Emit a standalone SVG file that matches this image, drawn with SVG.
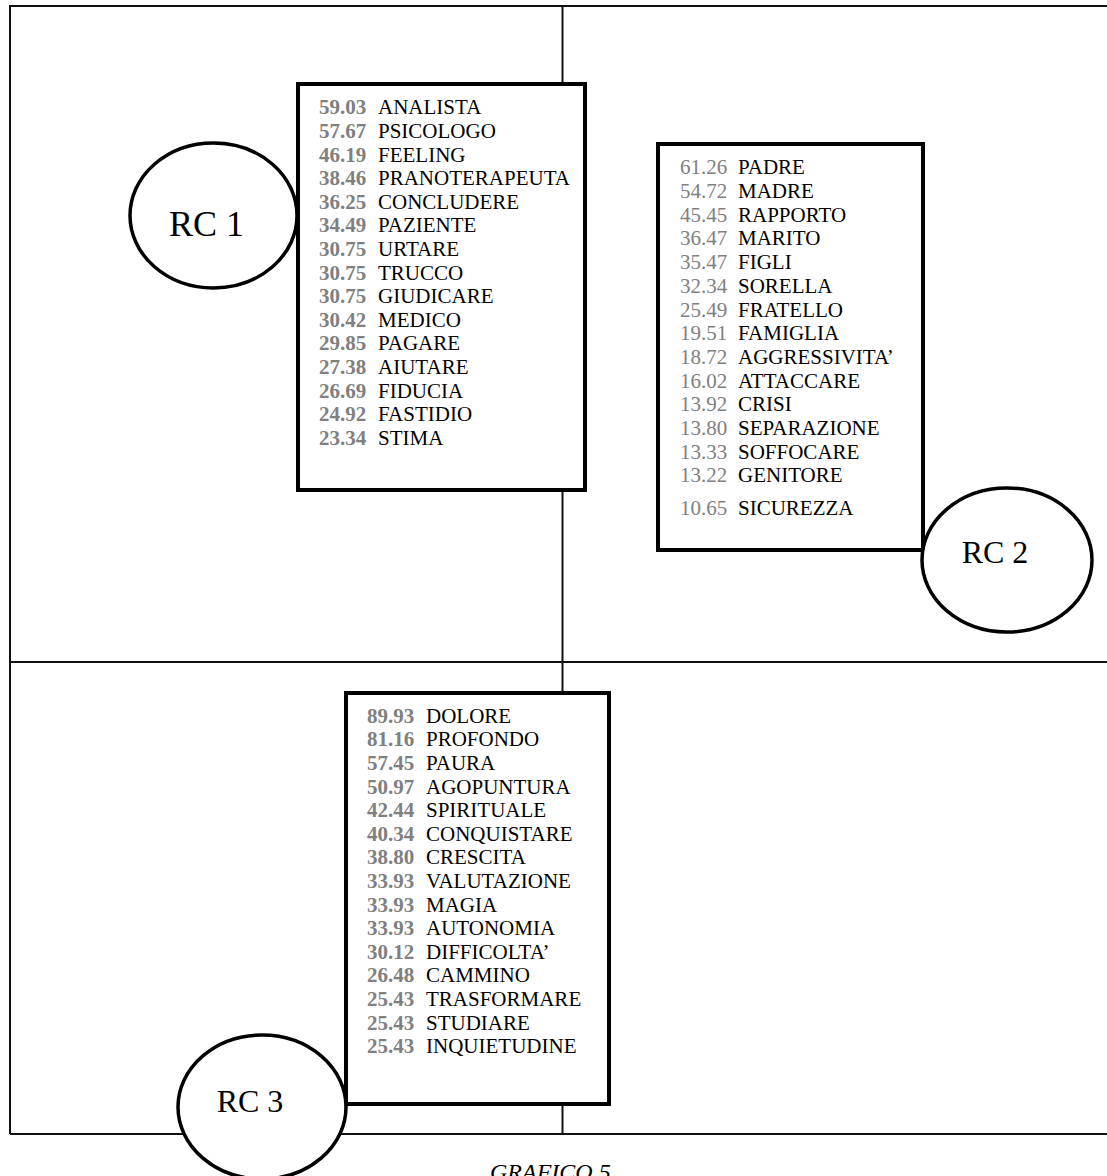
<svg xmlns="http://www.w3.org/2000/svg" width="1107" height="1176" viewBox="0 0 1107 1176">
<style>
text{font-family:"Liberation Serif","Times New Roman",serif;font-size:21px;fill:#000}
.n text{fill:#808080}
.b text{font-weight:bold}
.box{fill:#fff;stroke:#000;stroke-width:4}
.oval{fill:#fff;stroke:#000;stroke-width:3.5}
.ln{stroke:#111;stroke-width:2;fill:none}
.rc{font-size:32px}
</style>
<rect width="1107" height="1176" fill="#fff"/>
<g id="connectors">
<line class="ln" x1="10" y1="6" x2="1107" y2="6"/>
<line class="ln" x1="10" y1="5" x2="10" y2="1134"/>
<line class="ln" x1="10" y1="662" x2="1107" y2="662"/>
<line class="ln" x1="10" y1="1134" x2="1107" y2="1134"/>
<line class="ln" x1="562.5" y1="6" x2="562.5" y2="1134"/>
</g>
<g id="box1">
<rect class="box" x="298" y="84" width="287" height="406"/>
<g class="n b">
<text x="319" y="114.3">59.03</text><text x="319" y="137.9">57.67</text><text x="319" y="161.5">46.19</text><text x="319" y="185.1">38.46</text><text x="319" y="208.7">36.25</text><text x="319" y="232.3">34.49</text><text x="319" y="255.9">30.75</text><text x="319" y="279.5">30.75</text><text x="319" y="303.1">30.75</text><text x="319" y="326.7">30.42</text><text x="319" y="350.3">29.85</text><text x="319" y="373.9">27.38</text><text x="319" y="397.5">26.69</text><text x="319" y="421.1">24.92</text><text x="319" y="444.7">23.34</text>
</g>
<g>
<text x="378" y="114.3">ANALISTA</text><text x="378" y="137.9">PSICOLOGO</text><text x="378" y="161.5">FEELING</text><text x="378" y="185.1">PRANOTERAPEUTA</text><text x="378" y="208.7">CONCLUDERE</text><text x="378" y="232.3">PAZIENTE</text><text x="378" y="255.9">URTARE</text><text x="378" y="279.5">TRUCCO</text><text x="378" y="303.1">GIUDICARE</text><text x="378" y="326.7">MEDICO</text><text x="378" y="350.3">PAGARE</text><text x="378" y="373.9">AIUTARE</text><text x="378" y="397.5">FIDUCIA</text><text x="378" y="421.1">FASTIDIO</text><text x="378" y="444.7">STIMA</text>
</g>
</g>
<g id="rc1">
<ellipse class="oval" cx="213.5" cy="215.5" rx="83.5" ry="72.5"/>
<text x="206.5" y="236" text-anchor="middle" style="font-size:36px">RC 1</text>
</g>
<g id="box2">
<rect class="box" x="658" y="144" width="265" height="406"/>
<g class="n">
<text x="680" y="174.3">61.26</text><text x="680" y="198">54.72</text><text x="680" y="221.7">45.45</text><text x="680" y="245.4">36.47</text><text x="680" y="269.1">35.47</text><text x="680" y="292.8">32.34</text><text x="680" y="316.5">25.49</text><text x="680" y="340.2">19.51</text><text x="680" y="363.9">18.72</text><text x="680" y="387.6">16.02</text><text x="680" y="411.3">13.92</text><text x="680" y="435">13.80</text><text x="680" y="458.7">13.33</text><text x="680" y="482.4">13.22</text><text x="680" y="515">10.65</text>
</g>
<g>
<text x="738" y="174.3">PADRE</text><text x="738" y="198">MADRE</text><text x="738" y="221.7">RAPPORTO</text><text x="738" y="245.4">MARITO</text><text x="738" y="269.1">FIGLI</text><text x="738" y="292.8">SORELLA</text><text x="738" y="316.5">FRATELLO</text><text x="738" y="340.2">FAMIGLIA</text><text x="738" y="363.9">AGGRESSIVITA’</text><text x="738" y="387.6">ATTACCARE</text><text x="738" y="411.3">CRISI</text><text x="738" y="435">SEPARAZIONE</text><text x="738" y="458.7">SOFFOCARE</text><text x="738" y="482.4">GENITORE</text><text x="738" y="515">SICUREZZA</text>
</g>
</g>
<g id="rc2">
<ellipse class="oval" cx="1007" cy="560" rx="85" ry="72"/>
<text class="rc" x="995" y="563" text-anchor="middle">RC 2</text>
</g>
<g id="box3">
<rect class="box" x="346" y="693" width="263" height="411"/>
<g class="n b">
<text x="367" y="722.7">89.93</text><text x="367" y="746.3">81.16</text><text x="367" y="769.9">57.45</text><text x="367" y="793.5">50.97</text><text x="367" y="817.1">42.44</text><text x="367" y="840.7">40.34</text><text x="367" y="864.3">38.80</text><text x="367" y="887.9">33.93</text><text x="367" y="911.5">33.93</text><text x="367" y="935.1">33.93</text><text x="367" y="958.7">30.12</text><text x="367" y="982.3">26.48</text><text x="367" y="1005.9">25.43</text><text x="367" y="1029.5">25.43</text><text x="367" y="1053.1">25.43</text>
</g>
<g>
<text x="426" y="722.7">DOLORE</text><text x="426" y="746.3">PROFONDO</text><text x="426" y="769.9">PAURA</text><text x="426" y="793.5">AGOPUNTURA</text><text x="426" y="817.1">SPIRITUALE</text><text x="426" y="840.7">CONQUISTARE</text><text x="426" y="864.3">CRESCITA</text><text x="426" y="887.9">VALUTAZIONE</text><text x="426" y="911.5">MAGIA</text><text x="426" y="935.1">AUTONOMIA</text><text x="426" y="958.7">DIFFICOLTA’</text><text x="426" y="982.3">CAMMINO</text><text x="426" y="1005.9">TRASFORMARE</text><text x="426" y="1029.5">STUDIARE</text><text x="426" y="1053.1">INQUIETUDINE</text>
</g>
</g>
<g id="rc3">
<ellipse class="oval" cx="262" cy="1107" rx="84" ry="72"/>
<text class="rc" x="250" y="1112" text-anchor="middle">RC 3</text>
</g>
<g id="caption">
<text x="490" y="1180" style="font-size:24px;font-style:italic">GRAFICO 5</text>
</g>
</svg>
